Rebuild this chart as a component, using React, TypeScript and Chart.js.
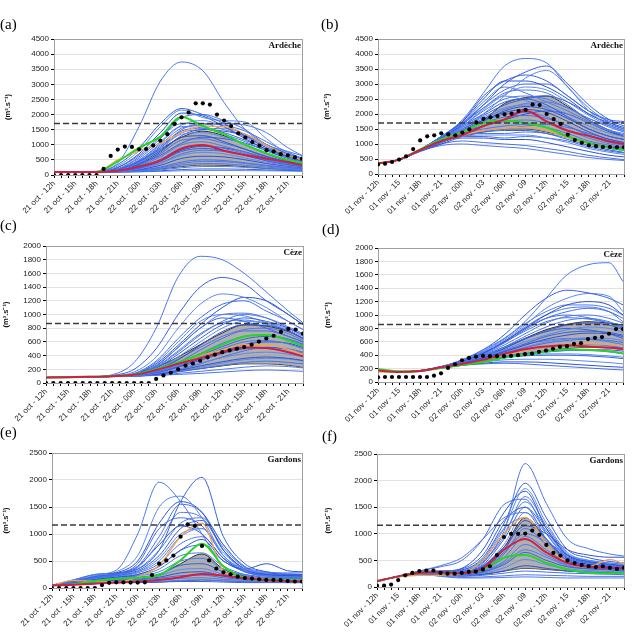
import React, { useEffect, useRef } from 'react';
import { Chart, registerables } from 'chart.js';
Chart.register(...registerables);

// Sample hours (index into the hourly axis) for ensemble members, bands and coloured lines
const HOURS = [0, 3, 6, 9, 12, 15, 18, 21, 24, 27, 30, 33, 35];

const labelsOct = ['21 oct - 12h', '21 oct - 15h', '21 oct - 18h', '21 oct - 21h', '22 oct - 00h', '22 oct - 03h', '22 oct - 06h', '22 oct - 09h', '22 oct - 12h', '22 oct - 15h', '22 oct - 18h', '22 oct - 21h'];
const labelsNov = ['01 nov - 12h', '01 nov - 15', '01 nov - 18h', '01 nov - 21', '02 nov - 00h', '02 nov - 03', '02 nov - 06h', '02 nov - 09', '02 nov - 12h', '02 nov - 15', '02 nov - 18h', '02 nov - 21'];

// ---------- Panel (a) Ardèche, October ----------
const obsA = [0, 0, 0, 0, 0, 0, 0, 200, 630, 840, 940, 930, 850, 860, 980, 1140, 1350, 1690, 1910, 2070, 2370, 2370, 2330, 2000, 1800, 1620, 1380, 1240, 1090, 970, 820, 780, 690, 650, 580, 540];
const redA = [100, 100, 100, 140, 280, 480, 870, 990, 800, 660, 540, 420, 330];
const greenA = [100, 100, 110, 450, 900, 1270, 1920, 1620, 1350, 1000, 720, 500, 400];
const orangeA = [100, 100, 110, 500, 800, 1050, 1400, 1620, 1600, 1350, 980, 650, 500];
const bandHighA = [100, 100, 100, 200, 450, 850, 1250, 1450, 1300, 1000, 700, 480, 380];
const bandLowA = [100, 100, 100, 110, 140, 200, 280, 330, 320, 280, 220, 180, 160];
const membersA = [
  [100, 100, 110, 400, 1600, 3100, 3740, 3450, 2400, 1500, 1000, 780, 640],
  [100, 100, 110, 350, 900, 1700, 2200, 2000, 1700, 1300, 900, 650, 520],
  [100, 100, 100, 300, 800, 1600, 2150, 1900, 1800, 1750, 1200, 700, 550],
  [100, 100, 100, 250, 700, 1400, 2050, 1950, 1600, 1200, 850, 600, 480],
  [100, 100, 100, 200, 600, 1200, 1900, 2000, 1800, 1500, 1000, 700, 550],
  [100, 100, 100, 250, 650, 1250, 1700, 1700, 1500, 1300, 950, 650, 500],
  [100, 100, 100, 200, 550, 1100, 1600, 1550, 1350, 1100, 800, 550, 430],
  [100, 100, 100, 180, 450, 950, 1450, 1550, 1400, 1150, 850, 600, 450],
  [100, 100, 100, 160, 400, 850, 1350, 1400, 1250, 1000, 700, 500, 400],
  [100, 100, 100, 150, 380, 800, 1250, 1300, 1100, 850, 600, 430, 350],
  [100, 100, 100, 140, 330, 700, 1150, 1200, 1050, 850, 620, 450, 360],
  [100, 100, 100, 130, 300, 600, 1000, 1100, 950, 750, 540, 400, 320],
  [100, 100, 100, 120, 260, 520, 900, 980, 880, 700, 500, 370, 300],
  [100, 100, 100, 120, 230, 450, 780, 880, 800, 650, 470, 340, 280],
  [100, 100, 100, 110, 200, 380, 650, 750, 700, 560, 420, 310, 260],
  [100, 100, 100, 110, 180, 320, 550, 620, 600, 500, 380, 290, 240],
  [100, 100, 100, 105, 160, 260, 430, 500, 480, 400, 320, 250, 210],
  [100, 100, 100, 100, 140, 210, 330, 380, 370, 320, 260, 210, 180],
  [100, 100, 100, 100, 120, 170, 240, 280, 280, 250, 210, 180, 160],
  [100, 100, 100, 100, 110, 140, 180, 200, 200, 190, 170, 150, 140],
  [100, 100, 100, 100, 105, 120, 140, 150, 150, 145, 140, 130, 120],
  [100, 100, 100, 130, 350, 750, 1300, 1500, 1450, 1300, 1000, 700, 520],
  [100, 100, 100, 150, 420, 900, 1500, 1700, 1650, 1450, 1100, 750, 560],
  [100, 100, 100, 180, 500, 1000, 1550, 1650, 1700, 1650, 1400, 900, 650],
  [100, 100, 100, 160, 450, 900, 1400, 1500, 1550, 1350, 1000, 650, 480],
  [100, 100, 100, 140, 350, 650, 1050, 1250, 1200, 1050, 800, 550, 420],
  [100, 100, 100, 170, 480, 1050, 1650, 1800, 1600, 1250, 900, 620, 470],
  [100, 100, 100, 120, 250, 480, 820, 950, 900, 760, 560, 400, 310],
  [100, 100, 100, 115, 210, 400, 700, 820, 780, 640, 480, 350, 280],
  [100, 100, 100, 105, 150, 240, 380, 450, 440, 380, 300, 230, 200],
];

// ---------- Panel (b) Ardèche, November ----------
const obsB = [320, 345, 400, 480, 590, 830, 1120, 1255, 1290, 1355, 1320, 1290, 1380, 1490, 1720, 1840, 1890, 1930, 1990, 2010, 2100, 2140, 2320, 2300, 2000, 1830, 1670, 1310, 1130, 1040, 955, 930, 900, 900, 890, 890];
const redB = [350, 480, 800, 1100, 1300, 1600, 1820, 2110, 1750, 1440, 1270, 1080, 1000];
const greenB = [350, 480, 820, 1150, 1400, 1700, 1780, 1700, 1550, 1250, 1030, 870, 800];
const orangeB = [350, 480, 800, 1100, 1300, 1450, 1520, 1560, 1450, 1200, 1000, 860, 800];
const bandHighB = [350, 480, 800, 1150, 1450, 1800, 2350, 2550, 2600, 2250, 1800, 1450, 1250];
const bandLowB = [350, 480, 800, 1100, 1250, 1400, 1500, 1500, 1400, 1250, 1050, 900, 850];
const membersB = [
  [350, 480, 820, 1250, 1800, 2700, 3600, 3850, 3700, 2900, 2200, 1700, 1500],
  [350, 480, 800, 1200, 1650, 2300, 3000, 3400, 3600, 3000, 2300, 1800, 1600],
  [350, 470, 780, 1150, 1500, 2000, 2600, 3200, 3450, 2900, 2100, 1600, 1400],
  [350, 480, 820, 1250, 1750, 2500, 3100, 3100, 2900, 2500, 2000, 1700, 1550],
  [350, 480, 820, 1250, 1700, 2300, 2800, 3000, 3000, 2600, 2100, 1750, 1700],
  [350, 480, 800, 1200, 1650, 2200, 2700, 2800, 2700, 2300, 1800, 1450, 1300],
  [350, 480, 800, 1200, 1600, 2100, 2500, 2600, 2500, 2200, 1850, 1600, 1450],
  [350, 480, 800, 1200, 1600, 2000, 2400, 2500, 2300, 1900, 1500, 1250, 1150],
  [350, 480, 800, 1150, 1550, 1900, 2200, 2300, 2250, 2000, 1700, 1450, 1350],
  [350, 480, 790, 1150, 1500, 1800, 2050, 2150, 2050, 1750, 1400, 1150, 1050],
  [350, 480, 790, 1100, 1450, 1700, 1900, 1950, 1850, 1600, 1300, 1100, 1000],
  [350, 470, 780, 1100, 1400, 1600, 1750, 1800, 1700, 1450, 1200, 1000, 900],
  [350, 470, 780, 1100, 1350, 1500, 1600, 1650, 1550, 1350, 1100, 950, 850],
  [350, 470, 770, 1050, 1300, 1400, 1450, 1450, 1350, 1150, 950, 800, 720],
  [350, 470, 770, 1050, 1250, 1300, 1300, 1300, 1200, 1050, 850, 720, 650],
  [350, 470, 760, 1000, 1200, 1200, 1150, 1150, 1050, 900, 750, 620, 570],
  [350, 470, 760, 1000, 1100, 1050, 1000, 950, 850, 750, 620, 530, 480],
  [350, 470, 750, 950, 1000, 950, 900, 850, 750, 650, 550, 480, 450],
  [350, 480, 800, 1200, 1700, 2400, 2900, 2700, 2400, 2100, 1750, 1450, 1300],
  [350, 480, 800, 1200, 1550, 1950, 2300, 2500, 2600, 2400, 2000, 1650, 1500],
  [350, 480, 820, 1250, 1700, 2200, 2600, 2450, 2200, 1900, 1600, 1350, 1250],
  [350, 470, 780, 1100, 1400, 1600, 1800, 2000, 2100, 2000, 1700, 1400, 1250],
  [350, 470, 780, 1100, 1350, 1450, 1500, 1600, 1650, 1550, 1350, 1150, 1050],
  [350, 480, 800, 1150, 1450, 1750, 2000, 2050, 1900, 1600, 1300, 1050, 950],
  [350, 470, 770, 1050, 1300, 1350, 1350, 1400, 1350, 1200, 1000, 850, 780],
  [350, 480, 810, 1250, 1750, 2600, 3100, 3300, 3100, 2600, 2100, 1800, 1750],
  [350, 480, 800, 1200, 1600, 2150, 2650, 2900, 2800, 2400, 1950, 1600, 1450],
  [350, 470, 780, 1100, 1450, 1750, 2100, 2250, 2150, 1850, 1500, 1250, 1150],
  [350, 470, 770, 1050, 1250, 1250, 1200, 1250, 1200, 1100, 900, 760, 700],
  [350, 480, 800, 1150, 1500, 1850, 2150, 2350, 2400, 2200, 1850, 1550, 1400],
];

// ---------- Panel (c) Cèze, October ----------
const obsC = [0, 0, 0, 0, 0, 0, 0, 0, 0, 0, 0, 0, 0, 0, 0, 60, 110, 150, 200, 255, 285, 325, 375, 415, 450, 475, 500, 525, 560, 605, 650, 690, 745, 790, 780, 720];
const redC = [80, 85, 90, 100, 120, 190, 280, 360, 450, 520, 510, 450, 390];
const greenC = [80, 85, 90, 100, 125, 200, 300, 420, 560, 680, 700, 620, 540];
const orangeC = [80, 85, 90, 100, 120, 190, 290, 400, 480, 560, 560, 490, 420];
const bandHighC = [80, 85, 90, 100, 130, 230, 380, 560, 730, 850, 830, 750, 650];
const bandLowC = [80, 85, 90, 95, 100, 130, 170, 210, 250, 280, 280, 260, 230];
const membersC = [
  [80, 85, 90, 120, 300, 800, 1550, 1850, 1800, 1600, 1330, 1050, 880],
  [80, 85, 90, 110, 200, 500, 1000, 1400, 1540, 1450, 1200, 1000, 850],
  [80, 85, 90, 105, 160, 380, 800, 1150, 1300, 1250, 1100, 900, 780],
  [80, 85, 90, 100, 130, 280, 550, 850, 1100, 1250, 1200, 1000, 850],
  [80, 85, 90, 100, 140, 320, 650, 950, 1150, 1200, 1050, 900, 780],
  [80, 85, 90, 100, 130, 260, 520, 800, 1000, 1020, 950, 800, 700],
  [80, 85, 90, 100, 120, 230, 450, 700, 900, 1000, 950, 820, 720],
  [80, 85, 90, 100, 120, 220, 420, 650, 850, 950, 900, 800, 700],
  [80, 85, 90, 100, 115, 200, 380, 600, 800, 900, 880, 780, 680],
  [80, 85, 90, 100, 115, 190, 340, 550, 750, 850, 840, 760, 650],
  [80, 85, 90, 100, 110, 180, 300, 480, 650, 760, 760, 680, 600],
  [80, 85, 90, 100, 110, 170, 280, 430, 580, 680, 700, 640, 560],
  [80, 85, 90, 95, 105, 160, 250, 380, 500, 600, 620, 570, 500],
  [80, 85, 90, 95, 105, 150, 230, 330, 430, 500, 520, 490, 430],
  [80, 85, 90, 95, 100, 140, 200, 290, 370, 430, 450, 420, 380],
  [80, 85, 90, 95, 100, 130, 180, 250, 310, 360, 380, 360, 330],
  [80, 85, 90, 95, 100, 120, 160, 210, 260, 300, 320, 300, 280],
  [80, 85, 90, 95, 100, 115, 140, 170, 200, 230, 250, 240, 220],
  [80, 85, 90, 95, 100, 110, 125, 140, 160, 180, 190, 180, 170],
  [80, 85, 90, 100, 120, 250, 520, 800, 950, 900, 800, 680, 600],
  [80, 85, 90, 100, 130, 300, 600, 900, 1000, 980, 880, 760, 650],
  [80, 85, 90, 95, 105, 150, 240, 350, 460, 560, 600, 580, 520],
  [80, 85, 90, 95, 100, 130, 190, 280, 380, 470, 520, 500, 450],
  [80, 85, 90, 100, 115, 200, 350, 520, 680, 780, 800, 720, 620],
  [80, 85, 90, 100, 125, 240, 470, 720, 880, 920, 860, 760, 660],
  [80, 85, 90, 95, 110, 170, 270, 400, 530, 640, 680, 640, 570],
  [80, 85, 90, 95, 100, 125, 170, 230, 290, 340, 360, 350, 320],
];

// ---------- Panel (d) Cèze, November ----------
const obsD = [70, 75, 75, 75, 75, 75, 75, 75, 95, 130, 210, 265, 325, 360, 380, 390, 385, 385, 385, 390, 400, 415, 425, 450, 470, 495, 525, 535, 570, 580, 640, 660, 670, 720, 790, 790];
const redD = [170, 150, 165, 220, 270, 330, 420, 490, 530, 550, 530, 510, 490];
const greenD = [190, 160, 165, 210, 255, 300, 360, 410, 450, 490, 480, 460, 430];
const orangeD = [150, 145, 160, 210, 260, 320, 400, 470, 520, 560, 570, 560, 540];
const bandHighD = [170, 155, 165, 220, 280, 370, 500, 650, 780, 860, 900, 880, 850];
const bandLowD = [170, 155, 165, 210, 250, 300, 360, 420, 470, 500, 520, 520, 510];
const membersD = [
  [180, 150, 170, 230, 330, 480, 650, 900, 1250, 1600, 1750, 1780, 1500],
  [180, 150, 170, 230, 330, 480, 700, 1000, 1250, 1370, 1330, 1250, 1150],
  [180, 150, 170, 230, 320, 450, 620, 850, 1100, 1250, 1320, 1280, 1050],
  [180, 150, 170, 225, 310, 430, 600, 800, 1000, 1150, 1200, 1150, 1000],
  [180, 150, 170, 225, 310, 420, 580, 780, 950, 1050, 1100, 1050, 950],
  [180, 150, 170, 220, 300, 410, 550, 720, 880, 980, 1000, 950, 880],
  [180, 150, 170, 220, 300, 400, 520, 680, 820, 920, 950, 900, 820],
  [180, 150, 170, 220, 290, 390, 500, 640, 760, 850, 880, 850, 780],
  [180, 150, 170, 220, 290, 380, 480, 600, 700, 780, 820, 800, 740],
  [180, 150, 170, 215, 280, 360, 450, 550, 640, 700, 730, 720, 680],
  [180, 150, 170, 215, 280, 350, 430, 510, 580, 620, 640, 620, 590],
  [180, 150, 170, 215, 270, 340, 410, 470, 520, 550, 560, 540, 510],
  [180, 150, 170, 210, 270, 330, 390, 430, 460, 470, 470, 450, 420],
  [180, 150, 170, 210, 260, 310, 360, 390, 400, 400, 390, 370, 350],
  [180, 150, 170, 210, 260, 300, 330, 340, 340, 330, 310, 290, 270],
  [180, 150, 170, 210, 250, 280, 300, 300, 290, 270, 250, 230, 220],
  [180, 150, 170, 205, 250, 270, 280, 270, 250, 230, 210, 190, 180],
  [180, 150, 170, 225, 320, 460, 640, 870, 1050, 1150, 1150, 1100, 1000],
  [180, 150, 170, 225, 315, 440, 600, 820, 1000, 1100, 1120, 1050, 900],
  [180, 150, 170, 220, 300, 400, 520, 650, 750, 800, 780, 720, 650],
  [180, 150, 170, 215, 280, 360, 440, 520, 600, 640, 660, 650, 620],
  [180, 150, 170, 210, 270, 330, 380, 420, 450, 470, 480, 480, 460],
  [180, 150, 170, 220, 300, 420, 600, 800, 950, 1000, 960, 880, 800],
  [180, 150, 170, 215, 290, 370, 470, 560, 620, 650, 640, 600, 560],
  [180, 150, 170, 225, 310, 430, 590, 760, 900, 960, 940, 880, 820],
  [180, 150, 170, 215, 285, 365, 460, 570, 680, 740, 760, 740, 700],
  [180, 150, 170, 210, 265, 320, 370, 400, 420, 420, 410, 390, 370],
];

// ---------- Panel (e) Gardons, October ----------
const obsE = [0, 0, 0, 0, 0, 0, 0, 55, 95, 105, 105, 100, 100, 105, 240, 450, 510, 600, 950, 1180, 1150, 780, 510, 360, 290, 255, 210, 185, 175, 160, 150, 150, 145, 130, 120, 120];
const redE = [50, 60, 80, 100, 120, 150, 200, 260, 230, 180, 150, 130, 120];
const greenE = [50, 70, 130, 170, 190, 240, 515, 820, 400, 190, 160, 150, 140];
const orangeE = [50, 140, 120, 110, 200, 420, 950, 1200, 320, 200, 170, 150, 140];
const bandHighE = [50, 60, 100, 150, 180, 250, 450, 630, 350, 220, 190, 170, 160];
const bandLowE = [50, 60, 100, 100, 100, 110, 130, 150, 130, 120, 110, 100, 100];
const membersE = [
  [50, 150, 250, 330, 1000, 1960, 1600, 1000, 400, 250, 220, 200, 200],
  [50, 150, 250, 280, 350, 700, 1600, 2050, 950, 450, 300, 250, 250],
  [50, 140, 230, 300, 600, 1500, 1700, 1300, 600, 350, 280, 260, 250],
  [50, 130, 220, 280, 500, 1200, 1600, 1400, 700, 350, 250, 230, 220],
  [50, 130, 200, 250, 400, 950, 1550, 1400, 800, 400, 300, 280, 280],
  [50, 120, 200, 250, 380, 850, 1400, 1300, 750, 380, 280, 260, 250],
  [50, 120, 200, 240, 350, 700, 1200, 1300, 800, 380, 270, 250, 240],
  [50, 110, 190, 230, 320, 600, 1100, 1250, 700, 350, 260, 240, 230],
  [50, 110, 180, 220, 300, 550, 1000, 1100, 650, 330, 250, 230, 220],
  [50, 100, 160, 200, 250, 400, 700, 900, 500, 350, 450, 320, 300],
  [50, 100, 170, 200, 250, 400, 700, 800, 500, 300, 220, 200, 200],
  [50, 100, 160, 190, 230, 350, 600, 650, 400, 250, 200, 190, 190],
  [50, 100, 150, 180, 220, 300, 500, 550, 350, 230, 190, 180, 180],
  [50, 90, 140, 170, 200, 260, 420, 450, 300, 210, 180, 170, 170],
  [50, 90, 130, 160, 180, 230, 340, 360, 250, 190, 170, 160, 160],
  [50, 80, 120, 150, 170, 200, 280, 300, 220, 170, 160, 150, 150],
  [50, 80, 110, 140, 150, 180, 230, 240, 190, 160, 150, 140, 140],
  [50, 80, 100, 120, 130, 150, 180, 190, 160, 140, 130, 130, 130],
  [50, 70, 90, 100, 110, 120, 140, 150, 130, 120, 110, 110, 110],
  [50, 70, 90, 100, 100, 110, 120, 120, 110, 100, 100, 100, 100],
  [50, 100, 180, 230, 300, 500, 950, 1100, 600, 300, 230, 210, 200],
  [50, 110, 200, 260, 400, 800, 1150, 1000, 550, 300, 240, 220, 210],
  [50, 120, 210, 260, 450, 1100, 1300, 1150, 600, 320, 250, 230, 220],
  [50, 100, 170, 210, 280, 450, 820, 950, 550, 310, 230, 210, 200],
];

// ---------- Panel (f) Gardons, November ----------
const obsF = [25, 25, 45, 130, 220, 265, 300, 310, 310, 265, 250, 250, 265, 285, 290, 330, 390, 600, 940, 1000, 1000, 1005, 1060, 980, 790, 640, 590, 500, 450, 415, 390, 375, 390, 360, 340, 360];
const redF = [110, 200, 270, 280, 260, 350, 700, 900, 650, 450, 380, 360, 350];
const greenF = [110, 200, 270, 280, 260, 330, 550, 600, 450, 330, 270, 260, 260];
const orangeF = [110, 190, 220, 220, 250, 500, 1000, 1310, 820, 450, 380, 520, 430];
const bandHighF = [110, 200, 270, 270, 280, 400, 750, 1300, 900, 500, 400, 350, 340];
const bandLowF = [110, 200, 270, 250, 230, 240, 300, 350, 330, 300, 280, 270, 260];
const membersF = [
  [110, 200, 280, 300, 300, 480, 1050, 2320, 1570, 900, 720, 620, 580],
  [110, 200, 270, 290, 320, 550, 1200, 1950, 1300, 700, 550, 480, 450],
  [110, 200, 270, 280, 300, 500, 1100, 1850, 1200, 650, 500, 450, 430],
  [110, 200, 270, 290, 350, 700, 1400, 1800, 1100, 600, 480, 430, 400],
  [110, 200, 300, 380, 500, 900, 1550, 1650, 1000, 550, 450, 400, 380],
  [110, 200, 300, 400, 550, 900, 1300, 1400, 900, 550, 450, 400, 380],
  [110, 200, 270, 280, 300, 450, 1000, 1600, 1100, 600, 480, 420, 400],
  [110, 200, 270, 280, 290, 420, 900, 1500, 1050, 580, 460, 410, 390],
  [110, 200, 270, 270, 280, 400, 800, 1400, 1000, 560, 450, 400, 380],
  [110, 200, 270, 270, 270, 380, 700, 1250, 900, 530, 430, 390, 370],
  [110, 200, 270, 270, 260, 350, 620, 1100, 800, 500, 420, 380, 360],
  [110, 200, 270, 260, 250, 320, 550, 950, 700, 460, 400, 360, 340],
  [110, 200, 270, 260, 240, 300, 480, 800, 600, 420, 370, 340, 320],
  [110, 200, 260, 250, 230, 280, 420, 650, 500, 380, 340, 320, 300],
  [110, 200, 260, 240, 220, 260, 360, 520, 420, 340, 310, 290, 280],
  [110, 190, 250, 230, 210, 240, 300, 400, 350, 300, 280, 270, 260],
  [110, 190, 250, 220, 200, 220, 260, 300, 280, 260, 250, 240, 230],
  [110, 190, 240, 210, 180, 190, 210, 230, 220, 210, 200, 200, 200],
  [110, 190, 240, 200, 170, 170, 180, 190, 180, 170, 170, 170, 170],
  [110, 200, 280, 300, 340, 600, 1250, 1500, 900, 500, 420, 380, 360],
  [110, 200, 280, 300, 320, 520, 1100, 1300, 850, 500, 420, 390, 370],
  [110, 200, 270, 280, 280, 380, 750, 1150, 1000, 700, 600, 560, 560],
  [110, 200, 270, 270, 260, 350, 650, 1000, 850, 600, 500, 450, 420],
  [110, 200, 270, 280, 300, 470, 950, 1700, 1150, 620, 470, 420, 400],
  [110, 200, 260, 250, 240, 290, 450, 700, 560, 400, 350, 330, 310],
];

type Box = { cx: number; cy: number; cw: number; ch: number; l: number; r: number; t: number; b: number; tx: number; lx: number; ly: number };

type PanelDef = {
  letter: string;
  station: string;
  labels: string[];
  yMax: number;
  yStep: number;
  threshold: number;
  obs: number[];
  red: number[];
  green: number[];
  orange: number[];
  bandHigh: number[];
  bandLow: number[];
  members: number[][];
  box: Box;
};

const PANELS: PanelDef[] = [
  { letter: '(a)', station: 'Ardèche', labels: labelsOct, yMax: 4500, yStep: 500, threshold: 1700, obs: obsA, red: redA, green: greenA, orange: orangeA, bandHigh: bandHighA, bandLow: bandLowA, members: membersA,
    box: { cx: 0, cy: 18, cw: 317, ch: 200, l: 54, r: 302, t: 39, b: 175, tx: 8, lx: 0, ly: 16 } },
  { letter: '(b)', station: 'Ardèche', labels: labelsNov, yMax: 4500, yStep: 500, threshold: 1700, obs: obsB, red: redB, green: greenB, orange: orangeB, bandHigh: bandHighB, bandLow: bandLowB, members: membersB,
    box: { cx: 317, cy: 18, cw: 317, ch: 200, l: 378, r: 624, t: 39, b: 174, tx: 10, lx: 321, ly: 16 } },
  { letter: '(c)', station: 'Cèze', labels: labelsOct, yMax: 2000, yStep: 200, threshold: 870, obs: obsC, red: redC, green: greenC, orange: orangeC, bandHigh: bandHighC, bandLow: bandLowC, members: membersC,
    box: { cx: 0, cy: 222, cw: 317, ch: 200, l: 46, r: 303, t: 246, b: 383, tx: 6, lx: 0, ly: 217 } },
  { letter: '(d)', station: 'Cèze', labels: labelsNov, yMax: 2000, yStep: 200, threshold: 860, obs: obsD, red: redD, green: greenD, orange: orangeD, bandHigh: bandHighD, bandLow: bandLowD, members: membersD,
    box: { cx: 317, cy: 222, cw: 317, ch: 200, l: 378, r: 623, t: 248, b: 382, tx: 11, lx: 322, ly: 221 } },
  { letter: '(e)', station: 'Gardons', labels: labelsOct, yMax: 2500, yStep: 500, threshold: 1165, obs: obsE, red: redE, green: greenE, orange: orangeE, bandHigh: bandHighE, bandLow: bandLowE, members: membersE,
    box: { cx: 0, cy: 428, cw: 317, ch: 204, l: 52, r: 302, t: 453, b: 588, tx: 6, lx: 0, ly: 424 } },
  { letter: '(f)', station: 'Gardons', labels: labelsNov, yMax: 2500, yStep: 500, threshold: 1160, obs: obsF, red: redF, green: greenF, orange: orangeF, bandHigh: bandHighF, bandLow: bandLowF, members: membersF,
    box: { cx: 317, cy: 428, cw: 317, ch: 204, l: 377, r: 624, t: 454, b: 587, tx: 11, lx: 322, ly: 428 } },
];

const BLUES = ['#4a78ec', '#3560e0', '#5b88f2', '#2e52d2', '#4470ea', '#5478e6'];
const SANS = '"Liberation Sans", Arial, sans-serif';

const sampled = (vals: number[]) => vals.map((y, k) => ({ x: HOURS[k], y }));
const hourly = (vals: number[]) => vals.map((y, i) => ({ x: i, y }));

const framePlugin = {
  id: 'frame',
  beforeDatasetsDraw(chart: any) {
    const { ctx, chartArea: a } = chart;
    ctx.save();
    ctx.strokeStyle = '#a0a0a0';
    ctx.lineWidth = 1;
    ctx.strokeRect(Math.round(a.left) + 0.5, Math.round(a.top) + 0.5, Math.round(a.width), Math.round(a.height));
    ctx.restore();
  },
  afterDraw(chart: any, _args: any, opts: any) {
    const { ctx, chartArea: a } = chart;
    ctx.save();
    ctx.font = 'bold 9px "Liberation Serif", "Times New Roman", serif';
    ctx.fillStyle = '#111';
    ctx.textAlign = 'right';
    ctx.textBaseline = 'alphabetic';
    ctx.fillText(opts.station || '', a.right - 1, a.top + 9);
    ctx.restore();
  },
};

function Panel({ p }: { p: PanelDef }) {
  const ref = useRef<HTMLCanvasElement>(null);
  useEffect(() => {
    const c = ref.current;
    if (!c) return;
    const bx = p.box;
    const datasets: any[] = [];
    datasets.push({ data: hourly(p.obs), showLine: false, pointRadius: 2.1, pointBackgroundColor: '#000', pointBorderWidth: 0, borderColor: '#000', order: 0 });
    datasets.push({ data: [{ x: 0, y: p.threshold }, { x: 35, y: p.threshold }], borderColor: '#3a3a3a', borderWidth: 1.5, borderDash: [6, 3], order: 1 });
    datasets.push({ data: sampled(p.red), borderColor: '#cf1f45', borderWidth: 2, order: 2 });
    datasets.push({ data: sampled(p.green), borderColor: '#26d626', borderWidth: 2, order: 3 });
    datasets.push({ data: sampled(p.orange), borderColor: '#f2a54e', borderWidth: 1.3, order: 4 });
    p.members.forEach((m, k) => {
      datasets.push({ data: sampled(m), borderColor: BLUES[k % BLUES.length], borderWidth: 1, order: 10 });
    });
    datasets.push({ data: sampled(p.bandHigh), borderColor: '#2a2a2a', borderWidth: 1, fill: '+1', backgroundColor: 'rgba(150,150,150,0.75)', order: 20 });
    datasets.push({ data: sampled(p.bandLow), borderColor: '#2a2a2a', borderWidth: 1, order: 20 });

    const chart = new Chart(c, {
      type: 'line',
      data: { datasets },
      plugins: [framePlugin],
      options: {
        animation: false,
        responsive: false,
        devicePixelRatio: 1,
        events: [],
        layout: { padding: { left: 0, top: bx.t - bx.cy, right: bx.cx + bx.cw - bx.r, bottom: 0 } },
        elements: {
          point: { radius: 0, hoverRadius: 0 },
          line: { cubicInterpolationMode: 'monotone', fill: false, borderWidth: 1 },
        },
        plugins: {
          legend: { display: false },
          tooltip: { enabled: false },
          frame: { station: p.station },
        } as any,
        scales: {
          x: {
            type: 'linear',
            min: 0,
            max: 35,
            afterFit: (s: any) => { s.height = bx.cy + bx.ch - bx.b; },
            border: { color: '#000', width: 1 },
            grid: { drawOnChartArea: false, drawTicks: true, tickLength: 3, tickColor: '#000' },
            ticks: {
              stepSize: 1,
              autoSkip: false,
              maxRotation: 45,
              minRotation: 45,
              padding: 1,
              color: '#222',
              font: { family: SANS, size: 8 },
              callback: (v: any) => {
                const n = Number(v);
                return Number.isInteger(n) && n % 3 === 0 ? (p.labels[n / 3] ?? '') : '';
              },
            },
          },
          y: {
            min: 0,
            max: p.yMax,
            afterFit: (s: any) => { s.width = bx.l - bx.cx; },
            border: { color: '#000', width: 1 },
            grid: { color: '#e2e2e2', drawTicks: true, tickLength: 3, tickColor: '#000' },
            ticks: { stepSize: p.yStep, padding: 2, color: '#222', font: { family: SANS, size: 8 }, callback: (v: any) => String(v) },
            title: {
              display: true,
              text: '(m³.s⁻¹)',
              color: '#111',
              font: { family: SANS, size: 7.5, weight: 'bold' },
              padding: { top: Math.max(0, bx.tx - 4.5), bottom: 0 },
            },
          },
        },
      } as any,
    });
    return () => chart.destroy();
  }, [p]);

  const bx = p.box;
  return (
    <>
      <canvas ref={ref} width={bx.cw} height={bx.ch} style={{ position: 'absolute', left: bx.cx, top: bx.cy, width: bx.cw, height: bx.ch }} />
      <div style={{ position: 'absolute', left: bx.lx, top: bx.ly, font: '15px "Liberation Serif", "Times New Roman", serif', lineHeight: '17px', color: '#000' }}>{p.letter}</div>
    </>
  );
}

export default function App() {
  return (
    <div style={{ position: 'absolute', left: 0, top: 0, width: 634, height: 632, background: '#fff', overflow: 'hidden' }}>
      {PANELS.map((p) => (
        <Panel key={p.letter} p={p} />
      ))}
    </div>
  );
}
